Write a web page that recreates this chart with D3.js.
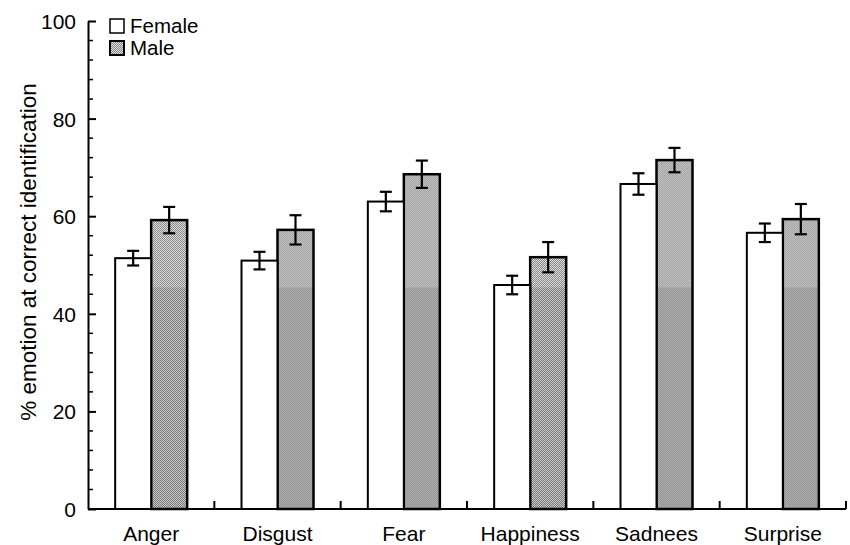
<!DOCTYPE html>
<html>
<head>
<meta charset="utf-8">
<script src="https://cdn.jsdelivr.net/npm/d3@7"></script>
<style>
  html, body { margin: 0; padding: 0; background: #fff; }
  svg { display: block; }
  text { font-family: "Liberation Sans", Arial, Helvetica, sans-serif; fill: #000; }
</style>
</head>
<body>
<svg id="chart" width="850" height="545"></svg>
<script>
const categories = ["Anger", "Disgust", "Fear", "Happiness", "Sadnees", "Surprise"];
const series = ["Female", "Male"];
const female = [51.4, 50.9, 63.0, 45.9, 66.6, 56.6];
const femaleErr = [1.5, 1.8, 2.0, 1.9, 2.2, 1.9];
const male = [59.2, 57.2, 68.6, 51.6, 71.5, 59.4];
const maleErr = [2.7, 3.0, 2.8, 3.1, 2.5, 3.1];
const yTicks = [0, 20, 40, 60, 80, 100];
const yLabel = "% emotion at correct identification";
const shadeSplit = 45.4;

const svg = d3.select("#chart");
const plotLeft = 88, plotRight = 846, plotTop = 21, plotBottom = 509;

const x = d3.scaleBand().domain(categories).range([plotLeft, plotRight]).paddingInner(0).paddingOuter(0);
const bw = x.bandwidth();
const barW = 36;
const x1 = d3.scaleBand().domain(series).range([bw / 2 - barW, bw / 2 + barW]);
const y = d3.scaleLinear().domain([0, 100]).range([plotBottom, plotTop]);

// patterns
const defs = svg.append("defs");
function checker(id, c1, c2) {
  const p = defs.append("pattern").attr("id", id).attr("patternUnits", "userSpaceOnUse")
    .attr("width", 2).attr("height", 2);
  p.append("rect").attr("width", 2).attr("height", 2).attr("fill", c1);
  p.append("rect").attr("width", 1).attr("height", 1).attr("fill", c2);
  p.append("rect").attr("x", 1).attr("y", 1).attr("width", 1).attr("height", 1).attr("fill", c2);
}
checker("maleLight", "#dedede", "#878787");
checker("maleDark", "#cbcbcb", "#777777");

const data = categories.map((c, i) => ({
  cat: c,
  vals: [
    { s: "Female", v: female[i], e: femaleErr[i] },
    { s: "Male", v: male[i], e: maleErr[i] }
  ]
}));

const g = svg.append("g");
const groups = g.selectAll("g.cat").data(data).join("g")
  .attr("class", "cat")
  .attr("transform", d => `translate(${x(d.cat)},0)`);

groups.each(function(d) {
  const gg = d3.select(this);
  const m = d.vals[1];
  const bx = x1("Male");
  gg.append("rect").attr("x", bx).attr("width", x1.bandwidth())
    .attr("y", y(m.v)).attr("height", y(0) - y(m.v)).attr("fill", "url(#maleLight)");
  gg.append("rect").attr("x", bx).attr("width", x1.bandwidth())
    .attr("y", y(shadeSplit)).attr("height", y(0) - y(shadeSplit)).attr("fill", "url(#maleDark)");
  gg.append("rect").attr("x", bx).attr("width", x1.bandwidth())
    .attr("y", y(m.v)).attr("height", y(0) - y(m.v))
    .attr("fill", "none").attr("stroke", "#000").attr("stroke-width", 2.5);
  const f = d.vals[0];
  gg.append("rect").attr("x", x1("Female")).attr("width", x1.bandwidth())
    .attr("y", y(f.v)).attr("height", y(0) - y(f.v))
    .attr("fill", "#fff").attr("stroke", "#000").attr("stroke-width", 2);
});

// error bars
const capW = 12;
groups.selectAll("g.err").data(d => d.vals).join("g").attr("class", "err")
  .each(function(d) {
    const gg = d3.select(this);
    const cx = x1(d.s) + x1.bandwidth() / 2;
    const sw = 2.2;
    gg.append("line").attr("x1", cx).attr("x2", cx).attr("y1", y(d.v + d.e)).attr("y2", y(d.v - d.e))
      .attr("stroke", "#000").attr("stroke-width", sw);
    [d.v + d.e, d.v - d.e].forEach(v => {
      gg.append("line").attr("x1", cx - capW / 2).attr("x2", cx + capW / 2).attr("y1", y(v)).attr("y2", y(v))
        .attr("stroke", "#000").attr("stroke-width", sw);
    });
  });

// y axis
const yAxis = d3.axisLeft(y).tickValues(yTicks).tickSizeInner(-8).tickSizeOuter(0).tickPadding(12)
  .tickFormat(d3.format("d"));
const ya = svg.append("g").attr("transform", `translate(${plotLeft},0)`).call(yAxis);
ya.select(".domain").attr("stroke", "#000").attr("stroke-width", 2);
ya.selectAll(".tick line").attr("stroke", "#000").attr("stroke-width", 2);
ya.selectAll(".tick text").attr("font-size", 21).attr("dy", "0.36em");
const minor = d3.range(0, 101, 4).filter(v => v % 20 !== 0);
ya.selectAll("line.minor").data(minor).join("line").attr("class", "minor")
  .attr("x1", 0).attr("x2", 5).attr("y1", d => y(d)).attr("y2", d => y(d))
  .attr("stroke", "#000").attr("stroke-width", 1.5);

// x axis
const xa = svg.append("g").attr("transform", `translate(0,${plotBottom})`);
xa.append("line").attr("x1", plotLeft).attr("x2", plotRight).attr("y1", 0).attr("y2", 0)
  .attr("stroke", "#000").attr("stroke-width", 2);
const boundaries = categories.map(c => x(c) + bw);
xa.selectAll("line.tk").data(boundaries).join("line").attr("class", "tk")
  .attr("x1", d => d).attr("x2", d => d).attr("y1", 0).attr("y2", -8)
  .attr("stroke", "#000").attr("stroke-width", 2);
xa.selectAll("text").data(categories).join("text")
  .attr("x", d => x(d) + bw / 2).attr("y", 32).attr("text-anchor", "middle")
  .attr("font-size", 21).text(d => d);

// y label
svg.append("text").attr("transform", `translate(36,252) rotate(-90)`)
  .attr("text-anchor", "middle").attr("font-size", 22.5).text(yLabel);

// legend
const lg = svg.append("g").attr("transform", "translate(110,19)");
const fills = ["#fff", "url(#maleLight)"];
series.forEach((s, i) => {
  lg.append("rect").attr("x", 0).attr("y", i * 22).attr("width", 14).attr("height", 14)
    .attr("fill", fills[i]).attr("stroke", "#000").attr("stroke-width", i ? 2 : 1.5);
  lg.append("text").attr("x", 20).attr("y", i * 22 + 14).attr("font-size", 20.5).text(s);
});
</script>
</body>
</html>
